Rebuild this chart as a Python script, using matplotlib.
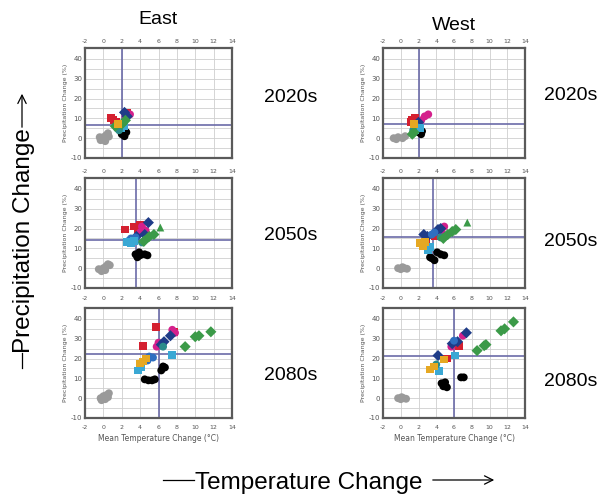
import matplotlib
matplotlib.use('Agg')
import matplotlib.pyplot as plt
from matplotlib.lines import Line2D
from matplotlib.patches import FancyArrowPatch

plt.rcParams['axes.unicode_minus'] = False

# ---------------- data ----------------
regions = ['East', 'West']
periods = ['2020s', '2050s', '2080s']
x_ticks = [-2, 0, 2, 4, 6, 8, 10, 12, 14]
y_ticks = [-10, 0, 10, 20, 30, 40]
y_minor_ticks = [-5, 5, 15, 25, 35]
x_label = 'Mean Temperature Change (°C)'
y_label = 'Precipitation Change (%)'

east_mean_temp = [2.0, 3.6, 6.1]
east_mean_precip = [6.6, 14.0, 22.5]
west_mean_temp = [2.0, 3.6, 6.0]
west_mean_precip = [7.0, 15.5, 21.5]

# East 2020s
east_2020s_x = [-0.3, 0.0, 0.3, 0.6, 0.2, -0.4, 0.5,
                0.8, 1.1, 1.4, 2.6, 2.9, 2.4, 2.3, 2.6, 2.2, 1.8, 1.5, 1.7,
                2.0, 2.4, 1.3, 2.0, 2.3, 2.5, 1.9, 1.9, 2.2, 1.6]
east_2020s_y = [-1.0, 0.5, 1.5, 0.8, -1.5, 0.5, 2.5,
                10.0, 9.0, 8.0, 12.5, 12.0, 11.0, 13.0, 11.0, 8.0, 6.0, 5.0, 4.0,
                7.0, 9.0, 6.0, 2.0, 1.0, 3.0, 3.5, 5.0, 6.0, 7.0]
east_2020s_s = ['grey'] * 7 + ['red', 'red', 'red', 'red', 'magenta', 'magenta',
                'navy', 'navy', 'blue', 'blue', 'teal', 'teal',
                'green', 'green', 'green', 'black', 'black', 'black', 'black',
                'cyan', 'cyan', 'orange']

# West 2020s
west_2020s_x = [-0.8, -0.3, 0.2, 0.5, -0.5,
                1.3, 1.6, 1.2, 3.1, 2.7, 2.3, 1.8, 2.0, 2.0, 1.7, 1.6, 2.2, 1.4,
                1.3, 1.5, 2.0, 2.3, 2.4, 1.5]
west_2020s_y = [0.0, 0.5, 0.0, 1.0, -0.5,
                9.0, 10.0, 8.0, 12.0, 11.0, 9.0, 7.0, 8.0, 5.0, 6.0, 4.0, 5.0, 4.0,
                2.0, 3.0, 3.0, 2.0, 3.5, 7.0]
west_2020s_s = ['grey'] * 5 + ['red', 'red', 'red', 'magenta', 'magenta', 'magenta',
                'navy', 'navy', 'blue', 'blue', 'cyan', 'cyan', 'teal',
                'green', 'green', 'black', 'black', 'black', 'orange']

# East 2050s
east_2050s_x = [-0.5, 0.0, 0.3, 0.5, -0.2, 0.2, 0.7,
                2.4, 3.3, 4.0, 3.8, 4.2, 4.6, 4.0, 4.9, 3.6, 4.5,
                3.0, 2.8, 3.5, 2.6, 3.0, 3.3, 4.2, 4.6,
                5.5, 5.0, 6.2, 4.4,
                3.7, 4.0, 4.5, 3.5, 4.8, 3.9]
east_2050s_y = [-0.5, 0.0, 1.0, 2.0, -1.5, -1.0, 1.5,
                19.5, 21.0, 22.0, 19.0, 21.0, 19.0, 18.0, 23.0, 16.0, 17.0,
                15.0, 14.0, 15.5, 13.0, 12.5, 13.5, 13.0, 14.5,
                17.0, 16.0, 20.5, 13.5,
                5.5, 6.5, 7.0, 7.0, 6.5, 8.0]
east_2050s_s = ['grey'] * 7 + ['red'] * 4 + ['magenta'] * 3 + ['navy'] * 3 + \
               ['blue'] * 3 + ['cyan'] * 3 + ['teal'] * 2 + \
               ['green', 'green', 'green_tri', 'green'] + ['black'] * 6

# West 2050s
west_2050s_x = [-0.3, 0.0, 0.4, 0.7, 0.2,
                2.2, 2.5, 2.7, 3.1, 3.3,
                2.6, 3.0, 4.2, 4.5, 3.5, 3.8, 4.9, 4.6, 3.8, 2.9,
                4.5, 5.0, 5.3, 5.8, 6.2, 7.5, 4.8,
                3.5, 3.8, 4.1, 4.5, 4.9, 3.3]
west_2050s_y = [0.0, -0.5, 0.0, -0.3, 0.5,
                12.5, 11.0, 13.0, 9.0, 10.5,
                17.0, 16.0, 19.5, 20.0, 17.0, 18.0, 21.0, 18.5, 16.0, 14.5,
                15.5, 16.0, 17.0, 18.5, 19.5, 23.0, 15.0,
                5.0, 4.0, 8.0, 7.0, 6.5, 5.5]
west_2050s_s = ['grey'] * 5 + ['orange'] * 3 + ['cyan'] * 2 + ['navy'] * 4 + \
               ['blue'] * 2 + ['magenta'] * 2 + ['red'] * 2 + ['teal'] * 2 + \
               ['green', 'green', 'green', 'green_tri', 'green'] + ['black'] * 6

# East 2080s
east_2080s_x = [-0.3, 0.0, 0.3, 0.5, -0.2, 0.2, 0.6,
                5.7, 4.3, 7.7, 6.0, 7.5, 7.8, 5.8, 7.3, 6.6, 6.3,
                5.0, 5.4, 4.8, 3.8, 4.1, 7.5, 4.0, 4.3, 4.6, 6.5,
                8.9, 10.4, 11.7, 10.0,
                4.5, 4.9, 5.3, 5.6, 6.5, 6.3, 6.7]
east_2080s_y = [0.0, 1.0, 1.5, 0.5, -1.0, -0.5, 2.5,
                36.0, 26.5, 33.5, 28.0, 34.5, 33.0, 26.0, 31.5, 28.5, 27.0,
                21.0, 20.5, 19.0, 14.0, 15.5, 22.0, 17.5, 18.5, 20.0, 26.0,
                26.0, 31.5, 33.5, 31.0,
                9.5, 9.0, 9.0, 9.5, 16.0, 14.0, 15.5]
east_2080s_s = ['grey'] * 7 + ['red'] * 3 + ['magenta'] * 4 + ['navy'] * 3 + \
               ['blue'] * 3 + ['cyan'] * 3 + ['orange'] * 3 + ['teal'] + \
               ['green'] * 4 + ['black'] * 7

# West 2080s
west_2080s_x = [-0.3, 0.0, 0.3, 0.6, 0.1,
                7.4, 6.4, 5.8, 4.2, 7.0, 5.7, 6.6, 5.2, 6.2, 6.0,
                6.1, 4.3, 3.3, 4.9, 3.7, 4.0,
                8.6, 9.6, 11.3, 11.7, 12.7, 9.4,
                4.6, 4.8, 5.2, 5.0, 6.8, 7.1]
west_2080s_y = [0.0, -0.5, 0.0, -0.3, 0.5,
                33.0, 28.5, 27.5, 21.5, 31.5, 26.0, 26.5, 20.0, 28.0, 29.0,
                21.5, 13.5, 14.5, 19.5, 16.0, 17.0,
                24.0, 27.0, 34.0, 35.0, 38.5, 26.5,
                7.5, 6.0, 5.5, 8.0, 10.5, 10.5]
west_2080s_s = ['grey'] * 5 + ['navy'] * 4 + ['magenta'] * 2 + ['red'] * 3 + \
               ['blue'] + ['cyan'] * 2 + ['orange'] * 3 + ['teal'] + \
               ['green'] * 6 + ['black'] * 6

# ---------------- style ----------------
series_style = {
    'grey':      ('#9a9a9a', 'o'),
    'black':     ('#000000', 'o'),
    'red':       ('#d42030', 's'),
    'magenta':   ('#d4208c', 'o'),
    'navy':      ('#1f3c88', 'D'),
    'blue':      ('#2f6fc0', 'o'),
    'cyan':      ('#3aa8d4', 's'),
    'teal':      ('#2a8c8a', 'o'),
    'green':     ('#3b9a48', 'D'),
    'green_tri': ('#3b9a48', '^'),
    'orange':    ('#e6a822', 's'),
}

panel_data = {
    ('East', '2020s'): (east_2020s_x, east_2020s_y, east_2020s_s),
    ('West', '2020s'): (west_2020s_x, west_2020s_y, west_2020s_s),
    ('East', '2050s'): (east_2050s_x, east_2050s_y, east_2050s_s),
    ('West', '2050s'): (west_2050s_x, west_2050s_y, west_2050s_s),
    ('East', '2080s'): (east_2080s_x, east_2080s_y, east_2080s_s),
    ('West', '2080s'): (west_2080s_x, west_2080s_y, west_2080s_s),
}
means = {'East': (east_mean_temp, east_mean_precip),
         'West': (west_mean_temp, west_mean_precip)}

W, H = 603, 500
fig = plt.figure(figsize=(W / 100, H / 100), dpi=100)
fig.patch.set_facecolor('white')

col_left = {'East': 85, 'West': 383}
col_width = {'East': 147, 'West': 142}
row_top = [48, 178, 308]
row_h = 110

big_font = ['Liberation Sans', 'DejaVu Sans']

for ci, reg in enumerate(regions):
    for ri, per in enumerate(periods):
        l = col_left[reg] / W
        b = (H - row_top[ri] - row_h) / H
        ax = fig.add_axes([l, b, col_width[reg] / W, row_h / H])
        ax.set_xlim(-2, 14)
        ax.set_ylim(-10, 45.5)
        ax.set_xticks(x_ticks)
        ax.set_yticks(y_ticks)
        ax.set_yticks(y_minor_ticks, minor=True)
        ax.grid(True, which='both', color='#cfcfcf', lw=0.6)
        ax.set_axisbelow(True)
        for sp in ax.spines.values():
            sp.set_color('#5a5a5a')
            sp.set_linewidth(1.6)
        bottom_row = (ri == 2)
        ax.tick_params(axis='x', which='both', length=0, labelsize=4.5, labelcolor='#555555',
                       top=False, labeltop=True, bottom=False, labelbottom=bottom_row, pad=3)
        ax.tick_params(axis='x', which='major', pad=5 if bottom_row else 3)
        ax.tick_params(axis='y', which='both', length=0, labelsize=5, labelcolor='#555555', pad=2)
        ax.set_ylabel(y_label, fontsize=4.5, color='#555555', labelpad=2)
        if bottom_row:
            ax.set_xlabel(x_label, fontsize=5.5, color='#555555', labelpad=3)

        mt, mp = means[reg]
        ax.axvline(mt[ri], color='#6b6ba8', lw=1.2, zorder=1)
        ax.axhline(mp[ri], color='#6b6ba8', lw=1.2, zorder=1)

        xs, ys, ss = panel_data[(reg, per)]
        for name, (col, mk) in series_style.items():
            px = [x for x, s in zip(xs, ss) if s == name]
            py = [y for y, s in zip(ys, ss) if s == name]
            if px:
                ax.scatter(px, py, s=32, c=col, marker=mk, edgecolors='none', zorder=3)

# ---------------- outer labels ----------------
fig.text(158 / W, 1 - 20 / H, 'East', ha='center', va='center', fontsize=14, family=big_font)
fig.text(454 / W, 1 - 26 / H, 'West', ha='center', va='center', fontsize=14, family=big_font)
for ri, per in enumerate(periods):
    fig.text(291 / W, 1 - [98, 235, 375][ri] / H, per, ha='center', va='center',
             fontsize=14, family=big_font)
    fig.text(571 / W, 1 - [96, 242, 382][ri] / H, per, ha='center', va='center',
             fontsize=14, family=big_font)

fig.text(309 / W, 1 - 483 / H, 'Temperature Change', ha='center', va='center',
         fontsize=17.5, family=big_font)
fig.text(24 / W, 1 - 241 / H, 'Precipitation Change', ha='center', va='center',
         rotation=90, fontsize=17.5, family=big_font)

# arrows / lines
fig.add_artist(Line2D([163 / W, 194 / W], [1 - 480 / H, 1 - 480 / H], color='black', lw=0.9,
                      transform=fig.transFigure))
fig.add_artist(FancyArrowPatch((430 / W, 1 - 480 / H), (497 / W, 1 - 480 / H),
                               transform=fig.transFigure, arrowstyle='->,head_length=6,head_width=3',
                               color='black', lw=0.9, mutation_scale=1))
fig.add_artist(Line2D([22 / W, 22 / W], [1 - 353 / H, 1 - 368 / H], color='black', lw=0.9,
                      transform=fig.transFigure))
fig.add_artist(FancyArrowPatch((22 / W, 1 - 130 / H), (22 / W, 1 - 91 / H),
                               transform=fig.transFigure, arrowstyle='->,head_length=6,head_width=3',
                               color='black', lw=0.9, mutation_scale=1))

fig.savefig('out.png', dpi=100, facecolor='white')
